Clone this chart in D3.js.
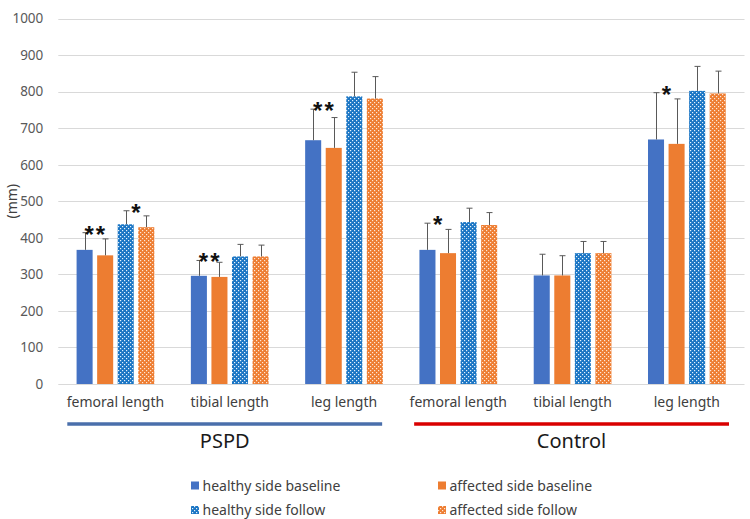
<!DOCTYPE html>
<html>
<head>
<meta charset="utf-8">
<script src="https://cdn.jsdelivr.net/npm/d3@7"></script>
<style>
  html, body { margin: 0; padding: 0; background: #ffffff; }
  svg { display: block; font-family: "Noto Sans", "Liberation Sans", sans-serif; }
</style>
</head>
<body>
<svg id="chart" width="750" height="519"></svg>
<script>
// ---------- data ----------
const groupNames = ["PSPD", "Control"];
const measures = ["femoral length", "tibial length", "leg length"];
const seriesNames = ["healthy side baseline", "affected side baseline", "healthy side follow", "affected side follow"];
const categoryLabels = ["femoral length", "tibial length", "leg length", "femoral length", "tibial length", "leg length"];
const yTicks = [0, 100, 200, 300, 400, 500, 600, 700, 800, 900, 1000];

// means (PSPD fem, tib, leg, Control fem, tib, leg)
const healthyBaseline = [367, 296, 667, 367, 297, 669];
const affectedBaseline = [352, 293, 646, 358, 297, 657];
const healthyFollow = [437, 349, 787, 443, 358, 802];
const affectedFollow = [429, 349, 781, 435, 358, 795];
// standard deviations
const healthyBaselineSD = [47, 42, 85, 73, 58, 128];
const affectedBaselineSD = [45, 40, 83, 65, 54, 123];
const healthyFollowSD = [37, 33, 66, 38, 32, 67];
const affectedFollowSD = [31, 31, 60, 34, 32, 61];

// significance markers: category index, pair (0 = baseline pair, 1 = follow pair), label
const sigCategory = [0, 0, 1, 2, 3, 5];
const sigPair = [0, 1, 0, 0, 0, 0];
const sigLabel = ["**", "*", "**", "**", "*", "*"];

// ---------- layout ----------
const W = 750, H = 519;
const margin = { top: 18.5, right: 6, bottom: 135, left: 58.3 };
const svg = d3.select("#chart");

const means = [healthyBaseline, affectedBaseline, healthyFollow, affectedFollow];
const sds = [healthyBaselineSD, affectedBaselineSD, healthyFollowSD, affectedFollowSD];
const catIdx = d3.range(categoryLabels.length);

const x0 = d3.scaleBand().domain(catIdx).range([margin.left, W - margin.right])
  .paddingInner(0.32).paddingOuter(0.16);
const x1 = d3.scaleBand().domain(d3.range(seriesNames.length)).range([0, x0.bandwidth()])
  .paddingInner(0.22).paddingOuter(0);
const y = d3.scaleLinear().domain([0, 1000]).range([H - margin.bottom, margin.top]);

// ---------- patterns ----------
const defs = svg.append("defs");
function dotPattern(id, base, dot) {
  const p = defs.append("pattern").attr("id", id).attr("patternUnits", "userSpaceOnUse")
    .attr("width", 4).attr("height", 4);
  p.append("rect").attr("width", 4).attr("height", 4).attr("fill", base);
  p.append("rect").attr("x", 0).attr("y", 0).attr("width", 1.2).attr("height", 1.2).attr("fill", dot);
  p.append("rect").attr("x", 2).attr("y", 2).attr("width", 1.2).attr("height", 1.2).attr("fill", dot);
}
dotPattern("pBlue", "#1a75c4", "#e8f2fb");
dotPattern("pOrange", "#ee7d31", "#fde8d8");
const fills = ["#4472c4", "#ed7d31", "url(#pBlue)", "url(#pOrange)"];

// ---------- gridlines ----------
svg.append("g").selectAll("line").data(yTicks).join("line")
  .attr("x1", margin.left).attr("x2", W - margin.right + 0.5)
  .attr("y1", d => Math.round(y(d)) + 0.5).attr("y2", d => Math.round(y(d)) + 0.5)
  .attr("stroke", "#d9d9d9").attr("stroke-width", 1);

// y axis labels
const yAxis = d3.axisLeft(y).tickValues(yTicks).tickFormat(d3.format("d")).tickSize(0).tickPadding(15);
const yg = svg.append("g").attr("transform", `translate(${margin.left},0)`).call(yAxis);
yg.select(".domain").remove();
yg.selectAll("text").attr("fill", "#595959").style("font-size", "13.5px")
  .style("font-family", "'Noto Sans', sans-serif");

svg.append("text")
  .attr("transform", `translate(17,${y(500)}) rotate(-90)`)
  .attr("text-anchor", "middle").attr("fill", "#404040").style("font-size", "14px")
  .text("(mm)");

// ---------- bars ----------
const barData = [];
catIdx.forEach(c => seriesNames.forEach((s, si) => {
  barData.push({ c, si, v: means[si][c], sd: sds[si][c] });
}));

const gBars = svg.append("g");
gBars.selectAll("rect").data(barData).join("rect")
  .attr("x", d => x0(d.c) + x1(d.si))
  .attr("width", x1.bandwidth())
  .attr("y", d => y(d.v))
  .attr("height", d => y(0) - y(d.v))
  .attr("fill", d => fills[d.si]);

// error bars (upper only)
const gErr = svg.append("g").attr("stroke", "#595959").attr("stroke-width", 1);
barData.forEach(d => {
  const cx = Math.round(x0(d.c) + x1(d.si) + x1.bandwidth() / 2) + 0.5;
  gErr.append("line").attr("x1", cx).attr("x2", cx).attr("y1", y(d.v)).attr("y2", y(d.v + d.sd));
  gErr.append("line").attr("x1", cx - 3).attr("x2", cx + 3).attr("y1", y(d.v + d.sd)).attr("y2", y(d.v + d.sd));
});

// significance markers
const gSig = svg.append("g");
sigCategory.forEach((c, i) => {
  const a = sigPair[i] * 2, b = a + 1;
  const xm = x0(c) + (x1(a) + x1.bandwidth() + x1(b)) / 2;
  const top = Math.max(means[a][c] + sds[a][c], means[b][c] + sds[b][c]);
  gSig.append("text")
    .attr("x", xm + 1).attr("y", y(top) + 10)
    .attr("text-anchor", "middle")
    .attr("fill", "#111")
    .style("font-family", "'Liberation Sans', Arial, sans-serif")
    .style("font-weight", "bold").style("font-size", "24px")
    .style("letter-spacing", "2px")
    .text(sigLabel[i]);
});

// ---------- category labels ----------
const xAxis = d3.axisBottom(x0).tickFormat(i => categoryLabels[i]).tickSize(0).tickPadding(13);
const xg = svg.append("g").attr("transform", `translate(0,${y(0)})`).call(xAxis);
xg.select(".domain").remove();
xg.selectAll("text").attr("fill", "#404040").style("font-size", "14px")
  .style("font-family", "'Noto Sans', sans-serif");

// group brackets
const groupColors = ["#4a6fab", "#d90000"];
groupNames.forEach((g, gi) => {
  const first = gi * measures.length, last = first + measures.length - 1;
  const xs = x0(first) - x0.step() * x0.paddingOuter() + 9 + gi * 4;
  const xe = x0(last) + x0.bandwidth() + x0.step() * x0.paddingOuter() - 19 + gi * 4;
  svg.append("line").attr("x1", xs).attr("x2", xe).attr("y1", 424).attr("y2", 424)
    .attr("stroke", groupColors[gi]).attr("stroke-width", 3.5);
  svg.append("text").attr("x", (xs + xe) / 2).attr("y", 448)
    .attr("text-anchor", "middle").attr("fill", "#1a1a1a")
    .style("font-size", "20px").text(g);
});

// ---------- legend ----------
const legX = [191, 438], legY = [485.5, 510];
const gLeg = svg.append("g");
seriesNames.forEach((s, i) => {
  const lx = legX[i % 2], ly = legY[Math.floor(i / 2)];
  gLeg.append("rect").attr("x", lx).attr("y", ly - 4).attr("width", 8).attr("height", 8)
    .attr("fill", fills[i]);
  gLeg.append("text").attr("x", lx + 11.5).attr("y", ly + 5)
    .attr("fill", "#404040").style("font-size", "14px").text(s);
});
</script>
</body>
</html>
